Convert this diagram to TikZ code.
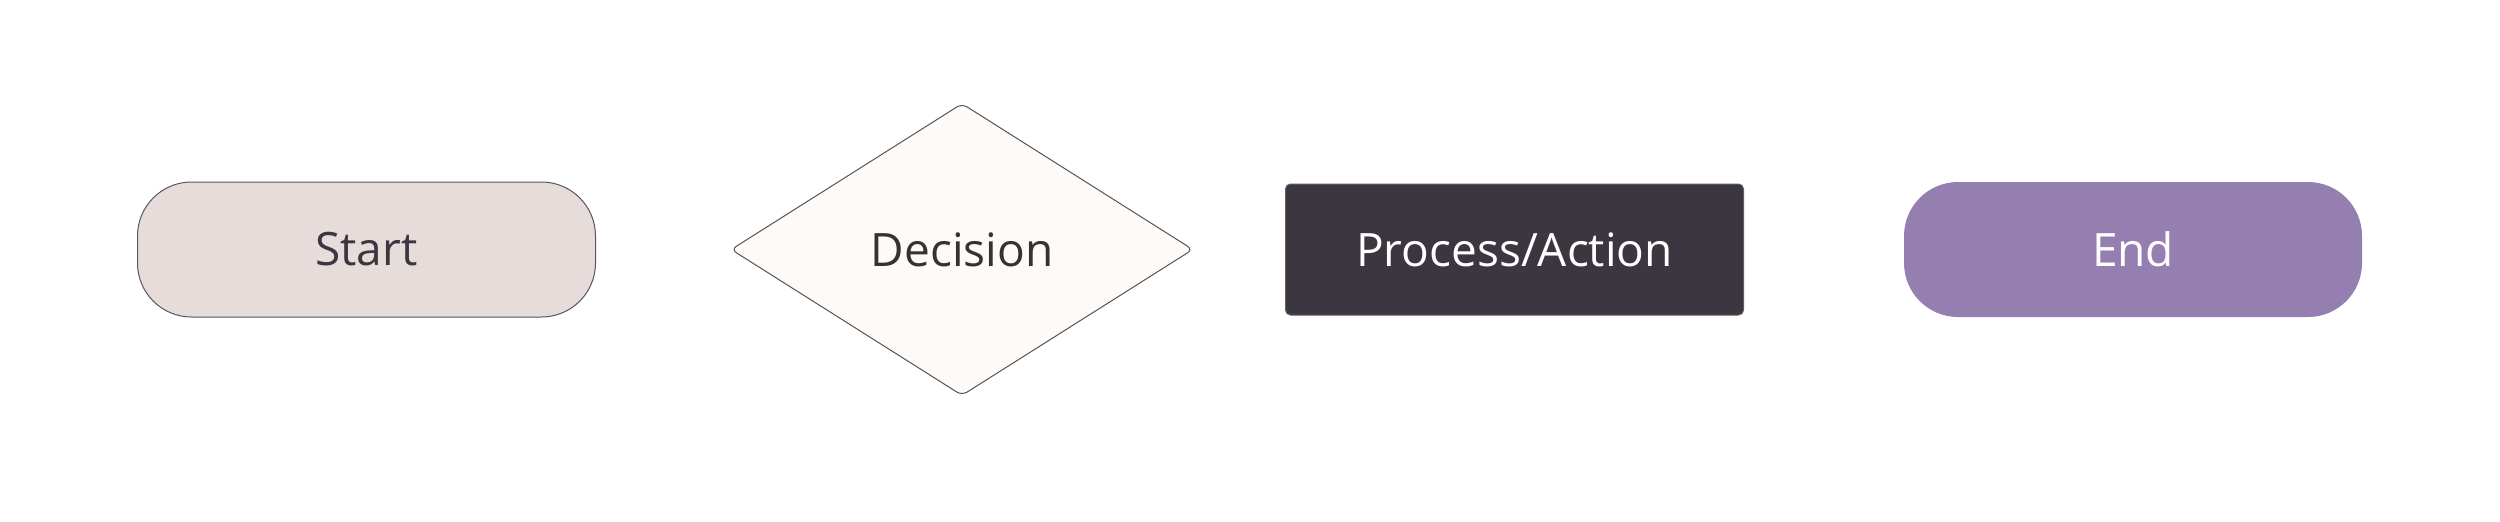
\documentclass[tikz,border=0pt]{standalone}
\usepackage{fontspec}
\setmainfont{Open Sans}
\usetikzlibrary{shapes.geometric,positioning}

\definecolor{startfill}{HTML}{E6DCD9}
\definecolor{startline}{HTML}{5A5360}
\definecolor{decfill}{HTML}{FDFAF8}
\definecolor{decline}{HTML}{555555}
\definecolor{procfill}{HTML}{3B3640}
\definecolor{endfill}{HTML}{957FB0}
\definecolor{darktext}{HTML}{3B3640}

\tikzset{
  shapebase/.style={inner sep=0pt, font=\fontsize{23}{28}\selectfont},
  terminal/.style={shapebase, rectangle, rounded corners=27pt,
    minimum width=229pt, minimum height=67.5pt},
  startbox/.style={terminal, fill=startfill, draw=startline, line width=0.5pt, text=darktext},
  endbox/.style={terminal, fill=endfill, text=white},
  decisionbox/.style={shapebase, diamond, rounded corners=3pt, fill=decfill,
    draw=decline, line width=0.5pt, text=black!80,
    minimum width=231pt, minimum height=146pt},
  processbox/.style={shapebase, rectangle, rounded corners=2.5pt, fill=procfill,
    draw=procfill!80!white, line width=0.5pt, text=white,
    minimum width=229pt, minimum height=65.5pt}
}

\begin{document}
\begin{tikzpicture}[x=0.5pt, y=-0.5pt]
		% 1. Fix the canvas (same size as the reference)
		\useasboundingbox[fill=white] (0,0) rectangle (2500,521);

		% 2. The four flowchart symbols, left to right
		\node[startbox] (start) at (366.5,249.5) {Start};
		\node[decisionbox] (decision) at (962,249.5) {Decision};
		\node[processbox] (process) at (1514.5,249.5) {Process/Action};
		\node[endbox] (end) at (2133,249.5) {End};
	\end{tikzpicture}
\end{document}
